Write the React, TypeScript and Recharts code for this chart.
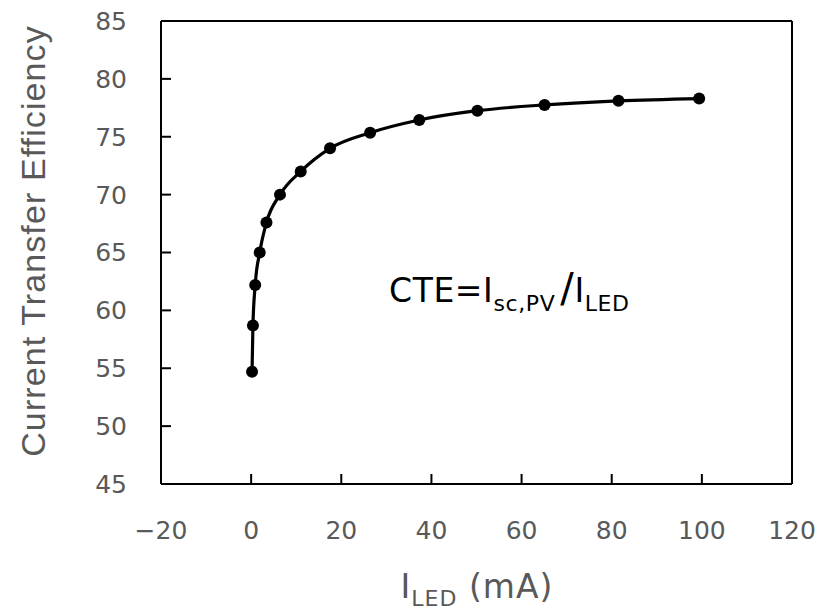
import { LineChart, Line, XAxis, YAxis, ReferenceLine } from "recharts";

const ledCurrent = [0.2, 0.4, 0.9, 1.9, 3.4, 6.4, 11.0, 17.5, 26.4, 37.3, 50.2, 65.1, 81.5, 99.4];
const cte = [54.7, 58.7, 62.2, 65.0, 67.6, 70.0, 72.0, 74.0, 75.35, 76.45, 77.25, 77.75, 78.1, 78.3];
const xTicks = [-20, 0, 20, 40, 60, 80, 100, 120];
const yTicks = [45, 50, 55, 60, 65, 70, 75, 80, 85];

const data = ledCurrent.map((x, i) => ({ x, y: cte[i] }));

const grey = "#595959";
const geo = "'DejaVu Sans', sans-serif";
const tickFont = { fontSize: 25, fill: grey, fontFamily: geo };
const fmt = (v: number) => String(v).replace("-", "\u2212");

export default function App() {
  return (
    <div style={{ position: "absolute", left: 0, top: 0, background: "#fff" }}>
      <LineChart width={818} height={611} data={data} margin={{ top: 21, right: 26, left: 0, bottom: 0 }}>
        <XAxis
          dataKey="x"
          type="number"
          domain={[-20, 120]}
          ticks={xTicks}
          tickFormatter={fmt}
          height={127}
          axisLine={{ stroke: "#000", strokeWidth: 2 }}
          tickLine={{ stroke: "#000", strokeWidth: 2 }}
          tickSize={-10}
          tickMargin={47}
          tick={tickFont}
          label={() => (
            <text x={477} y={598} textAnchor="middle" fill={grey} fontFamily={geo} fontSize={33} letterSpacing={1}>
              I
              <tspan fontSize={22} dy={8}>LED</tspan>
              <tspan dy={-8}> (mA)</tspan>
            </text>
          )}
        />
        <YAxis
          type="number"
          domain={[45, 85]}
          ticks={yTicks}
          width={161}
          axisLine={{ stroke: "#000", strokeWidth: 2 }}
          tickLine={{ stroke: "#000", strokeWidth: 2 }}
          tickSize={-10}
          tickMargin={44}
          tick={tickFont}
          label={() => (
            <text
              x={45}
              y={241}
              transform="rotate(-90 45 241)"
              textAnchor="middle"
              fill={grey}
              fontFamily="'Liberation Sans', Arial, sans-serif"
              fontSize={34}
              letterSpacing={1.1}
            >
              Current Transfer Efficiency
            </text>
          )}
        />
        <ReferenceLine y={85} stroke="#000" strokeWidth={2} ifOverflow="visible" />
        <ReferenceLine x={120} stroke="#000" strokeWidth={2} ifOverflow="visible" />
        <Line
          type="monotone"
          dataKey="y"
          stroke="#000"
          strokeWidth={3.2}
          dot={{ r: 6, fill: "#000", stroke: "#000", strokeWidth: 0 }}
          isAnimationActive={false}
        />
        <text x={389} y={302} fill="#000" fontFamily={geo} fontSize={33} letterSpacing={0.6}>
          CTE=I
          <tspan fontSize={22} dy={9}>sc,PV</tspan>
          <tspan dy={-9} dx={5} fontSize={40}>/</tspan>
          <tspan>I</tspan>
          <tspan fontSize={22} dy={9}>LED</tspan>
        </text>
      </LineChart>
    </div>
  );
}
